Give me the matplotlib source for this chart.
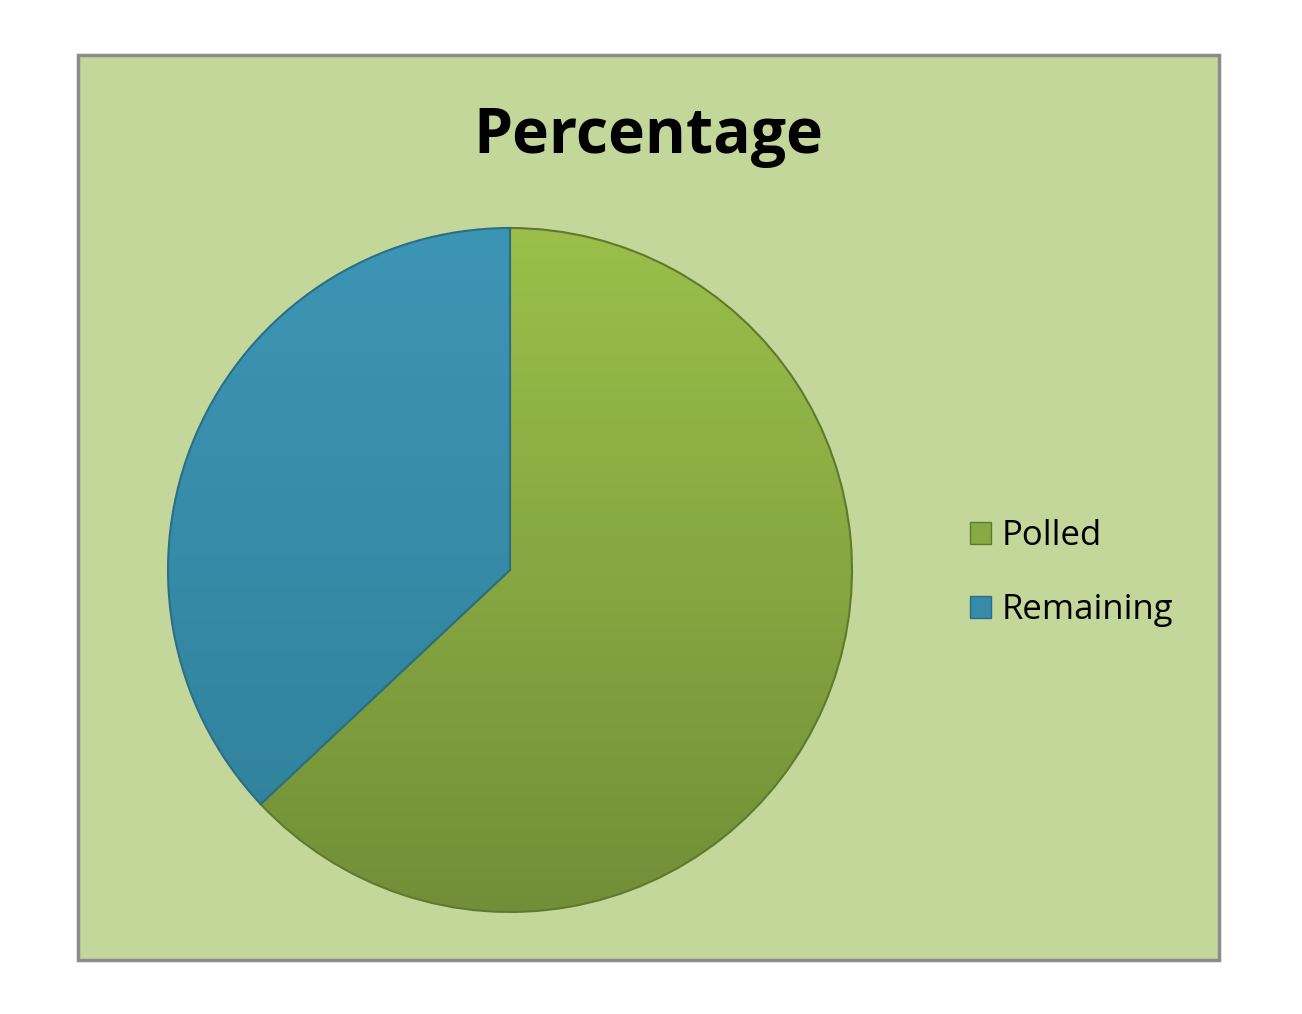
import matplotlib
matplotlib.use("Agg")
import matplotlib.pyplot as plt
import numpy as np
from matplotlib.colors import LinearSegmentedColormap
from matplotlib.patches import Rectangle

categories = ["Polled", "Remaining"]
values = [63, 37]
title = "Percentage"

W, H = 1302, 1014
fig = plt.figure(figsize=(W / 100, H / 100), dpi=100)
fig.patch.set_facecolor("white")

# chart area frame
bg = Rectangle((78 / W, 1 - 960 / H), (1219 - 78) / W, (960 - 55) / H,
               transform=fig.transFigure, facecolor="#C4D79B",
               edgecolor="#8C8C8C", linewidth=2.5, zorder=-5)
fig.patches.append(bg)

cx, cy, r = 510, 570, 342
ax = fig.add_axes([(cx - r) / W, 1 - (cy + r) / H, 2 * r / W, 2 * r / H])
ax.set_facecolor("none")
ax.set_zorder(2)

top_cols = ["#9BBF4A", "#3D95B5"]
bot_cols = ["#718F38", "#2F8099"]
base_cols = ["#88AA45", "#378AA8"]
edge_cols = ["#5E7A2E", "#2A6F85"]

wedges, _ = ax.pie(values, startangle=90, counterclock=False, radius=1,
                   colors=base_cols,
                   wedgeprops=dict(linewidth=1.5))

grad = np.linspace(1, 0, 256).reshape(-1, 1)
for w, t, b, e in zip(wedges, top_cols, bot_cols, edge_cols):
    cmap = LinearSegmentedColormap.from_list("g", [b, t])
    im = ax.imshow(grad, extent=[-1, 1, -1, 1], cmap=cmap, aspect="auto",
                   origin="upper", zorder=2, vmin=0, vmax=1)
    im.set_clip_path(w)
    w.set_zorder(3)
    w.set_facecolor("none")
    w.set_edgecolor(e)
ax.set_xlim(-1, 1)
ax.set_ylim(-1, 1)
ax.set_aspect("auto")
ax.axis("off")

fig.text(648 / W, 1 - 137 / H, title, ha="center", va="center",
         fontsize=45, fontweight="bold", family="Open Sans", color="black")

leg = fig.legend(wedges, categories, loc="center left",
                 bbox_to_anchor=(939 / W, 1 - 573 / H),
                 frameon=False, prop={"family": "Open Sans", "size": 25},
                 handlelength=0.6, handleheight=0.6, handletextpad=0.3,
                 labelspacing=1.15)
for h, c, e in zip(leg.legend_handles, base_cols, edge_cols):
    h.set_facecolor(c)
    h.set_edgecolor(e)
    h.set_linewidth(1.0)

fig.savefig("out.png", dpi=100, facecolor="white")
